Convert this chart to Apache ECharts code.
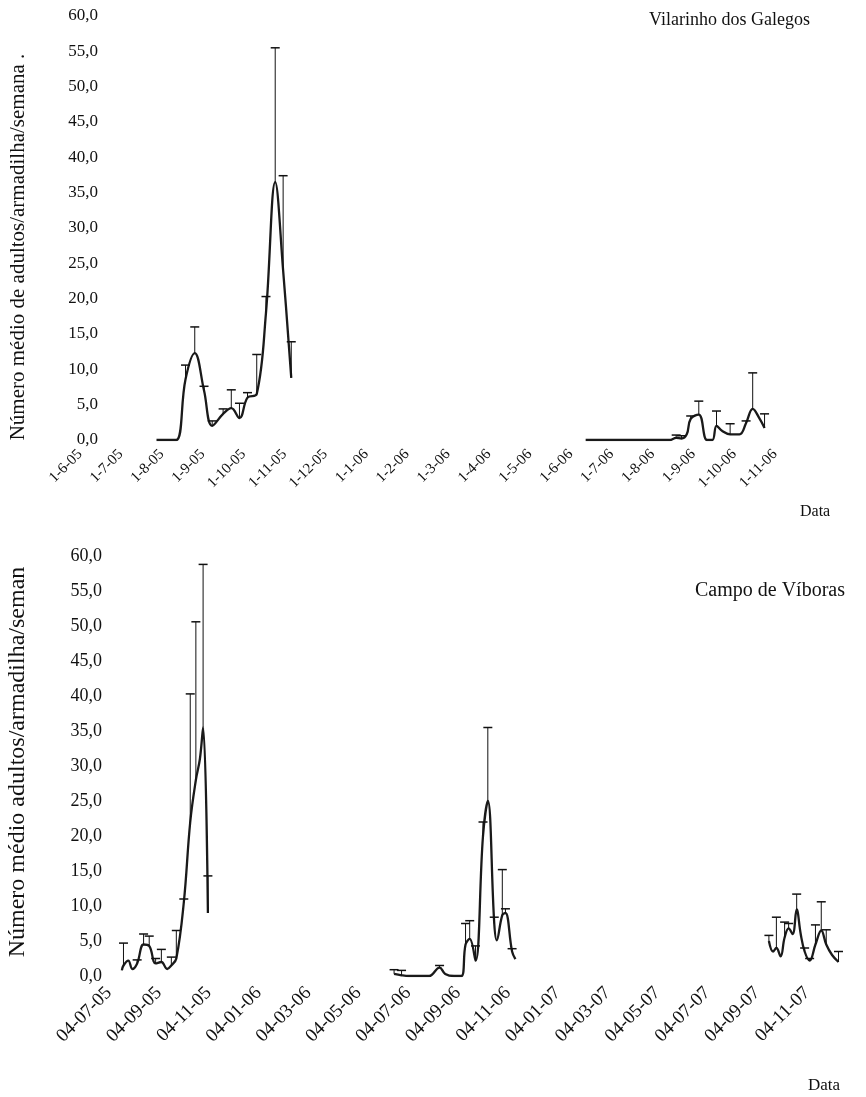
<!DOCTYPE html>
<html><head><meta charset="utf-8">
<script src="https://cdn.jsdelivr.net/npm/echarts@6/dist/echarts.min.js"></script>
<style>html,body{margin:0;padding:0;background:#fff}#c{width:866px;height:1097px}</style>
</head><body><div id="c"></div>
<script>
// ---------- Top chart: Vilarinho dos Galegos ----------
const topTickLabels = ['1-6-05','1-7-05','1-8-05','1-9-05','1-10-05','1-11-05','1-12-05','1-1-06','1-2-06','1-3-06','1-4-06','1-5-06','1-6-06','1-7-06','1-8-06','1-9-06','1-10-06','1-11-06'];
const topA_dates = ['2005-07-28','2005-08-04','2005-08-12','2005-08-19','2005-08-26','2005-09-02','2005-09-08','2005-09-16','2005-09-22','2005-09-28','2005-10-04','2005-10-11','2005-10-18','2005-10-25','2005-10-31','2005-11-06'];
const topA_mean  = [0, 0, 0, 8.6, 12.3, 7.0, 2.0, 3.7, 4.5, 3.1, 6.0, 6.5, 18.0, 36.5, 24.0, 8.8];
const topA_upper = [null, null, null, 10.6, 16.0, 7.6, 2.7, 4.4, 7.1, 5.2, 6.7, 12.1, 20.3, 55.5, 37.4, 13.9];
const topB_dates = ['2006-06-12','2006-06-19','2006-06-26','2006-07-03','2006-07-10','2006-07-17','2006-07-24','2006-07-31','2006-08-07','2006-08-14','2006-08-19','2006-08-23','2006-08-27','2006-08-30','2006-09-05','2006-09-11','2006-09-15','2006-09-18','2006-09-22','2006-09-28','2006-10-05','2006-10-10','2006-10-15','2006-10-20','2006-10-24'];
const topB_mean  = [0,0,0,0,0,0,0,0,0,0, 0.3, 0.2, 0.8, 3.0, 3.6, 0, 0, 2.0, 1.3, 0.8, 0.8, 2.4, 4.4, 3.1, 1.7];
const topB_upper = [null,null,null,null,null,null,null,null,null,null, 0.7, 0.6, null, 3.4, 5.5, null, null, 4.1, null, 2.3, null, 2.7, 9.5, null, 3.7];

// ---------- Bottom chart: Campo de Víboras ----------
const botTickLabels = ['04-07-05','04-09-05','04-11-05','04-01-06','04-03-06','04-05-06','04-07-06','04-09-06','04-11-06','04-01-07','04-03-07','04-05-07','04-07-07','04-09-07','04-11-07'];
const botA_dates = ['2005-07-20','2005-07-22','2005-07-28','2005-08-02','2005-08-08','2005-08-16','2005-08-23','2005-08-31','2005-09-07','2005-09-14','2005-09-19','2005-09-25','2005-10-04','2005-10-12','2005-10-19','2005-10-24','2005-10-28','2005-11-03'];
const botA_mean  = [0.8, 1.5, 2.2, 1.0, 1.8, 4.5, 4.3, 1.8, 2.0, 1.0, 1.5, 2.5, 10.5, 22.0, 28.0, 31.0, 35.5, 9.0];
const botA_upper = [null, 4.7, null, null, 2.3, 6.0, 5.7, 2.5, 3.8, null, 2.7, 6.5, 11.0, 40.3, 50.6, null, 58.8, 14.3];
const botB_dates = ['2006-06-17','2006-06-26','2006-07-05','2006-07-18','2006-07-30','2006-08-12','2006-08-19','2006-08-30','2006-09-08','2006-09-13','2006-09-18','2006-09-25','2006-10-04','2006-10-10','2006-10-18','2006-10-21','2006-10-28','2006-11-01','2006-11-09','2006-11-13'];
const botB_mean  = [0.3, 0.1, 0, 0, 0, 1.2, 0.3, 0, 0, 4.5, 5.3, 2.2, 20.0, 25.0, 7.5, 5.1, 8.7, 9.0, 3.5, 2.4];
const botB_upper = [0.9, 0.8, null, null, null, 1.5, null, null, null, 7.5, 7.9, 4.3, 22.0, 35.5, 8.4, null, 15.2, 9.6, 3.9, null];
const botC_dates = ['2007-09-18','2007-09-23','2007-09-27','2007-10-02','2007-10-07','2007-10-12','2007-10-17','2007-10-22','2007-10-27','2007-11-01','2007-11-07','2007-11-14','2007-11-21','2007-11-27','2007-12-04','2007-12-12'];
const botC_mean  = [5.0, 3.5, 4.0, 2.8, 5.5, 6.8, 6.0, 9.5, 6.0, 3.5, 2.2, 4.5, 6.5, 4.5, 3.0, 2.0];
const botC_upper = [5.8, null, 8.4, null, 7.7, 7.5, null, 11.7, null, 4.0, 2.5, 7.3, 10.6, 6.6, null, 3.5];

// date -> months since an axis origin
function monthPos(s, by, bm, bd) {
  const [y, m, d] = s.split('-').map(Number);
  const dim = new Date(y, m, 0).getDate();
  return (y - by) * 12 + (m - bm) + (d - bd) / dim;
}
const topPos = s => monthPos(s, 2005, 6, 1);
const botPos = s => monthPos(s, 2005, 7, 4);

function lineData(dates, vals, pos) { return dates.map((d, i) => [pos(d), vals[i]]); }
function errData(dates, vals, ups, pos) {
  const out = [];
  dates.forEach((d, i) => { if (ups[i] != null) out.push([pos(d), vals[i], ups[i]]); });
  return out;
}

const FONT = 'Liberation Serif';
const TXT = '#111';
const fmtY = v => v.toFixed(1).replace('.', ',');

function errRender(params, api) {
  const x = api.value(0), v = api.value(1), u = api.value(2);
  const p0 = api.coord([x, v]), p1 = api.coord([x, u]);
  return { type: 'group', children: [
    { type: 'line', shape: { x1: p0[0], y1: p0[1], x2: p1[0], y2: p1[1] }, style: { stroke: '#111', lineWidth: 1 } },
    { type: 'line', shape: { x1: p1[0] - 4.5, y1: p1[1], x2: p1[0] + 4.5, y2: p1[1] }, style: { stroke: '#111', lineWidth: 1.5 } }
  ]};
}
function lineSeries(data, ax) {
  return { type: 'line', xAxisIndex: ax, yAxisIndex: ax, data, smooth: 0.4, symbol: 'none',
    lineStyle: { color: '#1a1a1a', width: 2.3 }, z: 3 };
}
function errSeries(data, ax) {
  return { type: 'custom', xAxisIndex: ax, yAxisIndex: ax, data, renderItem: errRender,
    encode: { x: 0, y: [1, 2] }, z: 4 };
}

const chart = echarts.init(document.getElementById('c'));
chart.setOption({
  animation: false,
  backgroundColor: '#fff',
  textStyle: { fontFamily: FONT },
  title: [
    { text: 'Vilarinho dos Galegos', right: 51, top: 6, textStyle: { fontFamily: FONT, fontWeight: 'normal', fontSize: 18, color: TXT } },
    { text: 'Campo de Víboras', right: 16, top: 576, textStyle: { fontFamily: FONT, fontWeight: 'normal', fontSize: 20, color: TXT } }
  ],
  graphic: [
    { type: 'text', left: 800, top: 504, style: { text: 'Data', font: '16px "Liberation Serif"', fill: TXT } },
    { type: 'text', left: 808, top: 1077, style: { text: 'Data', font: '17px "Liberation Serif"', fill: TXT } },
    { type: 'text', x: 18, y: 247, rotation: Math.PI / 2,
      style: { text: 'Número médio de adultos/armadilha/semana .', font: '21px "Liberation Serif"', fill: TXT, align: 'center', verticalAlign: 'middle' } },
    { type: 'text', x: 18, y: 762, rotation: Math.PI / 2,
      style: { text: 'Número médio adultos/armadilha/seman', font: '24px "Liberation Serif"', fill: TXT, align: 'center', verticalAlign: 'middle' } }
  ],
  grid: [
    { left: 80, right: 50, top: 16, height: 424 },
    { left: 109, right: 9, top: 556, height: 420 }
  ],
  xAxis: [
    { type: 'value', gridIndex: 0, min: 0, max: 18, interval: 1,
      axisLine: { show: false }, axisTick: { show: false }, splitLine: { show: false },
      axisLabel: { rotate: 45, margin: 12, fontFamily: FONT, fontSize: 15, color: TXT,
        formatter: v => topTickLabels[Math.round(v)] || '' } },
    { type: 'value', gridIndex: 1, min: 0, max: 30, interval: 2,
      axisLine: { show: false }, axisTick: { show: false }, splitLine: { show: false },
      axisLabel: { rotate: 45, margin: 14, fontFamily: FONT, fontSize: 19, color: TXT,
        formatter: v => botTickLabels[Math.round(v / 2)] || '' } }
  ],
  yAxis: [
    { type: 'value', gridIndex: 0, min: 0, max: 60, interval: 5, offset: -28,
      axisLine: { show: false }, axisTick: { show: false }, splitLine: { show: false },
      axisLabel: { margin: 10, fontFamily: FONT, fontSize: 17, color: TXT, formatter: fmtY } },
    { type: 'value', gridIndex: 1, min: 0, max: 60, interval: 5,
      axisLine: { show: false }, axisTick: { show: false }, splitLine: { show: false },
      axisLabel: { margin: 7, fontFamily: FONT, fontSize: 18, color: TXT, formatter: fmtY } }
  ],
  series: [
    lineSeries(lineData(topA_dates, topA_mean, topPos), 0),
    errSeries(errData(topA_dates, topA_mean, topA_upper, topPos), 0),
    lineSeries(lineData(topB_dates, topB_mean, topPos), 0),
    errSeries(errData(topB_dates, topB_mean, topB_upper, topPos), 0),
    lineSeries(lineData(botA_dates, botA_mean, botPos), 1),
    errSeries(errData(botA_dates, botA_mean, botA_upper, botPos), 1),
    lineSeries(lineData(botB_dates, botB_mean, botPos), 1),
    errSeries(errData(botB_dates, botB_mean, botB_upper, botPos), 1),
    lineSeries(lineData(botC_dates, botC_mean, botPos), 1),
    errSeries(errData(botC_dates, botC_mean, botC_upper, botPos), 1)
  ]
});
</script></body></html>
